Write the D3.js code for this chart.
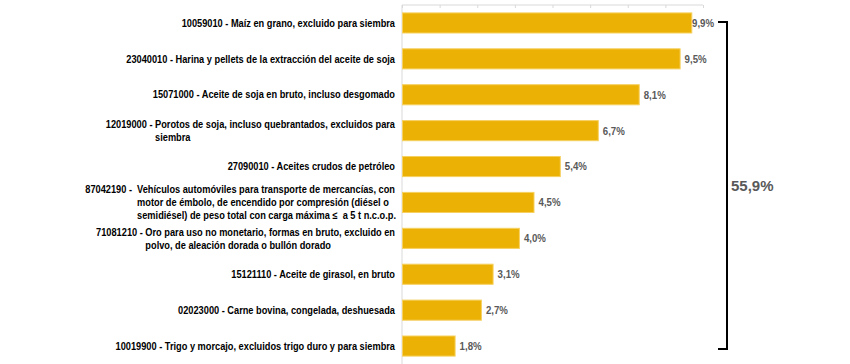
<!DOCTYPE html>
<meta charset="utf-8">
<head>
<style>
body { margin: 0; background: #fff; }
svg { display: block; font-family: "Liberation Sans", Arial, sans-serif; }
.cat text { font-size: 10.5px; font-weight: bold; fill: #000; white-space: pre; }
.val { font-size: 11px; font-weight: bold; fill: #595959; }
.total { font-size: 15px; font-weight: bold; fill: #595959; }
</style>
<script src="https://d3js.org/d3.v7.min.js"></script>
</head>
<body>
<svg width="850" height="364"></svg>
<script>

// data
var codes = ["10059010", "23040010", "15071000", "12019000", "27090010",
             "87042190", "71081210", "15121110", "02023000", "10019900"];
var descLines = [
  ["Maíz en grano, excluido para siembra"],
  ["Harina y pellets de la extracción del aceite de soja"],
  ["Aceite de soja en bruto, incluso desgomado"],
  ["Porotos de soja, incluso quebrantados, excluidos para", "siembra"],
  ["Aceites crudos de petróleo"],
  ["Vehículos automóviles para transporte de mercancías, con",
   "motor de émbolo, de encendido por compresión (diésel o",
   "semidiésel) de peso total con carga máxima ≤  a 5 t n.c.o.p."],
  ["Oro para uso no monetario, formas en bruto, excluido en",
   "polvo, de aleación dorada o bullón dorado"],
  ["Aceite de girasol, en bruto"],
  ["Carne bovina, congelada, deshuesada"],
  ["Trigo y morcajo, excluidos trigo duro y para siembra"]
];
var values = [9.9, 9.5, 8.1, 6.7, 5.4, 4.5, 4.0, 3.1, 2.7, 1.8];
var totalLabel = "55,9%";
var xMax = 10.3;
var tickCount = 8;

var svg = d3.select("svg"),
    width = +svg.attr("width"),
    height = +svg.attr("height");

var margin = {left: 402, right: 147, top: 5, bottom: 0};
var squeeze = 0.88; // text in the picture is a bit narrow

var x = d3.scaleLinear()
    .domain([0, xMax])
    .range([margin.left, width - margin.right]);

var y = d3.scaleBand()
    .domain(d3.range(codes.length))
    .range([margin.top, height - margin.bottom])
    .paddingInner(0.44)
    .paddingOuter(0.22);

var fmt = function(v) { return d3.format(".1f")(v).replace(".", ",") + "%"; };

// top axis line + ticks
var xAxis = d3.axisTop(x)
    .tickValues(d3.range(tickCount + 1).map(function(i) { return i * xMax / tickCount; }))
    .tickSize(-3)
    .tickFormat("");

var ax = svg.append("g")
    .attr("transform", "translate(0," + margin.top + ")")
    .call(xAxis);
ax.select(".domain").attr("stroke", "#d9d9d9").attr("d", "M" + x(0) + ",0H" + x(xMax));
ax.selectAll(".tick line").attr("stroke", "#d9d9d9");

// left axis line
svg.append("line")
    .attr("x1", x(0)).attr("x2", x(0))
    .attr("y1", margin.top).attr("y2", height)
    .attr("stroke", "#d9d9d9");

// bars
svg.append("g").selectAll("rect")
  .data(values)
  .enter().append("rect")
    .attr("x", x(0) + 0.5)
    .attr("y", function(d, i) { return y(i); })
    .attr("width", function(d) { return x(d) - x(0); })
    .attr("height", y.bandwidth())
    .attr("fill", "#ecb105")
    .attr("stroke", "#f6d161")
    .attr("stroke-width", 1);

// bracket
var bx = 727;
var yTop = y(0) + y.bandwidth() / 2 - 1;
var yBot = y(codes.length - 1) + y.bandwidth() / 2 + 3;

svg.append("path")
    .attr("d", "M" + (bx - 9) + "," + yTop + "H" + bx + "V" + yBot + "H" + (bx - 9))
    .attr("fill", "none")
    .attr("stroke", "#000")
    .attr("stroke-width", 2);

svg.append("text")
    .attr("class", "total")
    .attr("x", bx + 4)
    .attr("y", (yTop + yBot) / 2)
    .attr("dy", "0.35em")
    .text(totalLabel);

// value labels
svg.append("g").selectAll("text")
  .data(values)
  .enter().append("text")
    .attr("class", "val")
    .attr("transform", function(d, i) {
      var lx = Math.min(x(d) + 5, bx - 35);
      return "translate(" + lx + "," + (y(i) + y.bandwidth() / 2) + ") scale(" + squeeze + ",1)";
    })
    .attr("dy", "0.35em")
    .text(fmt);

// category labels
var lineH = 13;
var cat = svg.append("g").attr("class", "cat");

codes.forEach(function(code, i) {
  var lines = descLines[i];
  var n = lines.length;
  var cy = y(i) + y.bandwidth() / 2;
  var g = cat.append("g")
      .attr("transform", "translate(395," + cy + ") scale(" + squeeze + ",1)");
  var prefix = code + (n > 2 ? " -  " : " - ");
  var first = g.append("text")
      .attr("text-anchor", "end")
      .attr("y", -(n - 1) * lineH / 2)
      .attr("dy", "0.35em")
      .text(prefix + lines[0]);
  if (n > 1) {
    var w = first.node().getComputedTextLength();
    var tmp = g.append("text").text(prefix);
    var pw = tmp.node().getComputedTextLength();
    tmp.remove();
    for (var k = 1; k < n; k++) {
      g.append("text")
          .attr("x", -w + pw)
          .attr("y", -(n - 1) * lineH / 2 + k * lineH)
          .attr("dy", "0.35em")
          .text(lines[k]);
    }
  }
});

</script>
</body>
